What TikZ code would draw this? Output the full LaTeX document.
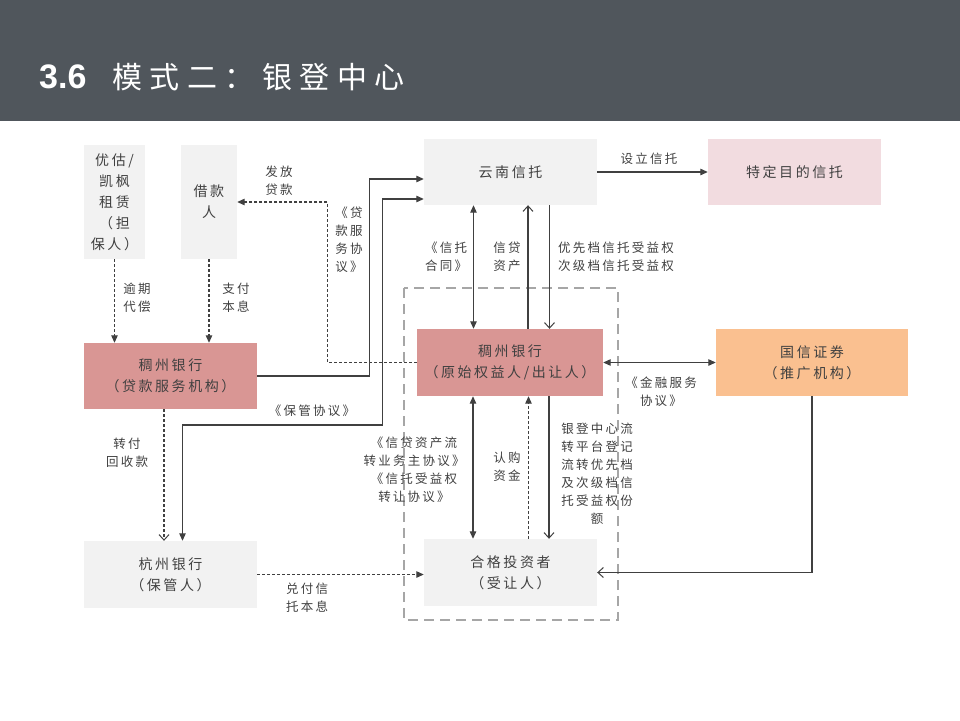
\documentclass[tikz,border=0pt]{standalone}
\usepackage{fontspec}
\setmainfont{Noto Sans CJK SC}[LetterSpace=18]
\newfontfamily\titlecjk{Noto Sans CJK SC}[LetterSpace=25]
\newfontfamily\titlenum{Liberation Sans}
\usepackage{tikz}
\usetikzlibrary{arrows.meta,calc}
\definecolor{hdrGrey} {RGB}{80, 86, 92}
\definecolor{boxGrey} {RGB}{242,242,242}
\definecolor{boxRose} {RGB}{217,150,148}
\definecolor{boxPink} {RGB}{242,220,224}
\definecolor{boxPeach}{RGB}{250,192,144}
\definecolor{inkGrey} {RGB}{64, 64, 64}
\definecolor{frameGrey}{RGB}{166,166,166}

\begin{document}
\begin{tikzpicture}[x=1pt,y=-1pt,
          bx/.style={draw=none,inner sep=0pt,align=center,text=inkGrey,
                     font=\fontsize{14}{21}\selectfont},
          lb/.style={inner sep=0pt,align=center,text=inkGrey,
                     font=\fontsize{12.5}{18}\selectfont},
          ln/.style={inkGrey,line width=1.1pt},
          dsh/.style={inkGrey,line width=1.1pt,dash pattern=on 3pt off 2pt},
          fa/.tip={Triangle[length=7.5pt,width=6.5pt]},
          oa/.tip={Straight Barb[length=5.5pt,width=10pt,line width=1pt]}]
  \useasboundingbox (0,0) rectangle (960,720);
  % header
  \fill[hdrGrey] (0,0) rectangle (960,121);
  \node[anchor=west,text=white,inner sep=0pt] (ttl) at (39,77)
    {{\titlenum\bfseries\fontsize{34}{34}\selectfont 3.6}\hspace{26pt}{\titlecjk\fontsize{30}{30}\selectfont 模式二：银登中心}};
  % boxes
  \node[bx,fill=boxGrey,minimum width=61pt,minimum height=114pt] (dbr) at (114.5,202)
    {优估/\\凯枫\\租赁\\（担\\保人）};
  \node[bx,fill=boxGrey,minimum width=56pt,minimum height=114pt] (jkr) at (209,202) {借款\\人};
  \node[bx,fill=boxGrey,minimum width=173pt,minimum height=66pt] (ynxt) at (510.5,172) {云南信托};
  \node[bx,fill=boxPink,minimum width=173pt,minimum height=66pt] (tdmd) at (794.5,172) {特定目的信托};
  \node[bx,fill=boxRose,minimum width=173pt,minimum height=66pt] (czdk) at (170.5,376)
    {稠州银行\\（贷款服务机构）};
  \node[bx,fill=boxRose,minimum width=186pt,minimum height=67pt] (czys) at (510,362.5)
    {稠州银行\\（原始权益人/出让人）};
  \node[bx,fill=boxPeach,minimum width=192pt,minimum height=67pt] (gxzq) at (812,362.5)
    {国信证券\\（推广机构）};
  \node[bx,fill=boxGrey,minimum width=173pt,minimum height=67pt] (hzyh) at (170.5,574.5)
    {杭州银行\\（保管人）};
  \node[bx,fill=boxGrey,minimum width=173pt,minimum height=67pt] (hgtz) at (510.5,572.5)
    {合格投资者\\（受让人）};
  % frame
  \draw[frameGrey,line width=1.5pt,dash pattern=on 10pt off 6pt] (404,288) rectangle (618,620);
  % connectors
  \draw[dsh,-fa] (dbr.south) -- (dbr.south |- czdk.north);
  \draw[dsh,-fa] (jkr.south) -- (jkr.south |- czdk.north);
  \draw[dsh,-fa] (czys.west) -- ++(-89,0) |- (jkr.east);
  \draw[ln,-fa] (czdk.east) -- ++(112,0) |- ([yshift=-7pt]ynxt.west);
  \draw[ln,fa-fa] ([yshift=-27pt]ynxt.west) -- ++(-41,0) -- ++(0,226) -| ([xshift=12pt]hzyh.north);
  \draw[ln,-fa] (ynxt.east) -- (tdmd.west);
  \draw[ln,fa-fa] ([xshift=-37pt]ynxt.south) -- ([xshift=-37pt]ynxt.south |- czys.north);
  \draw[ln,-oa] ([xshift=18pt]czys.north) -- ([xshift=18pt]czys.north |- ynxt.south);
  \draw[ln,-oa] ([xshift=39pt]ynxt.south) -- ([xshift=39pt]ynxt.south |- czys.north);
  \draw[ln,fa-fa] (czys.east) -- (gxzq.west);
  \draw[ln,fa-fa] ([xshift=-37pt]czys.south) -- ([xshift=-37pt]czys.south |- hgtz.north);
  \draw[dsh,-fa] ([xshift=18pt]hgtz.north) -- ([xshift=18pt]hgtz.north |- czys.south);
  \draw[ln,-oa] ([xshift=39pt]czys.south) -- ([xshift=39pt]czys.south |- hgtz.north);
  \draw[ln,-oa] (gxzq.south) |- (hgtz.east);
  \draw[dsh,-oa] ([xshift=-6.5pt]czdk.south) -- ([xshift=-6.5pt]hzyh.north);
  \draw[dsh,-fa] (hzyh.east) -- (hzyh.east -| hgtz.west);
  % labels
  \node[lb] (yqdc) at (137,298) {逾期\\代偿};
  \node[lb] (zfbx) at (236,298) {支付\\本息};
  \node[lb] (ffdk) at (279,181) {发放\\贷款};
  \node[lb,align=left] (dkfw) at (349,240) {《贷\\款服\\务协\\议》};
  \node[lb] (bgxy) at (312,411) {《保管协议》};
  \node[lb] (slxt) at (649,159) {设立信托};
  \node[lb] (xtht) at (446,257) {《信托\\合同》};
  \node[lb] (xdzc) at (507,257) {信贷\\资产};
  \node[lb,align=left] (syq) at (616,257) {优先档信托受益权\\次级档信托受益权};
  \node[lb] (jrfw) at (661,392) {《金融服务\\协议》};
  \node[lb] (lzxy) at (414,470) {《信贷资产流\\转业务主协议》\\《信托受益权\\转让协议》};
  \node[lb] (rgzj) at (507,467) {认购\\资金};
  \node[lb] (ydzx) at (597,474) {银登中心流\\转平台登记\\流转优先档\\及次级档信\\托受益权份\\额};
  \node[lb] (zfhs) at (127,453) {转付\\回收款};
  \node[lb] (dfbx) at (307,598) {兑付信\\托本息};
\end{tikzpicture}
\end{document}
